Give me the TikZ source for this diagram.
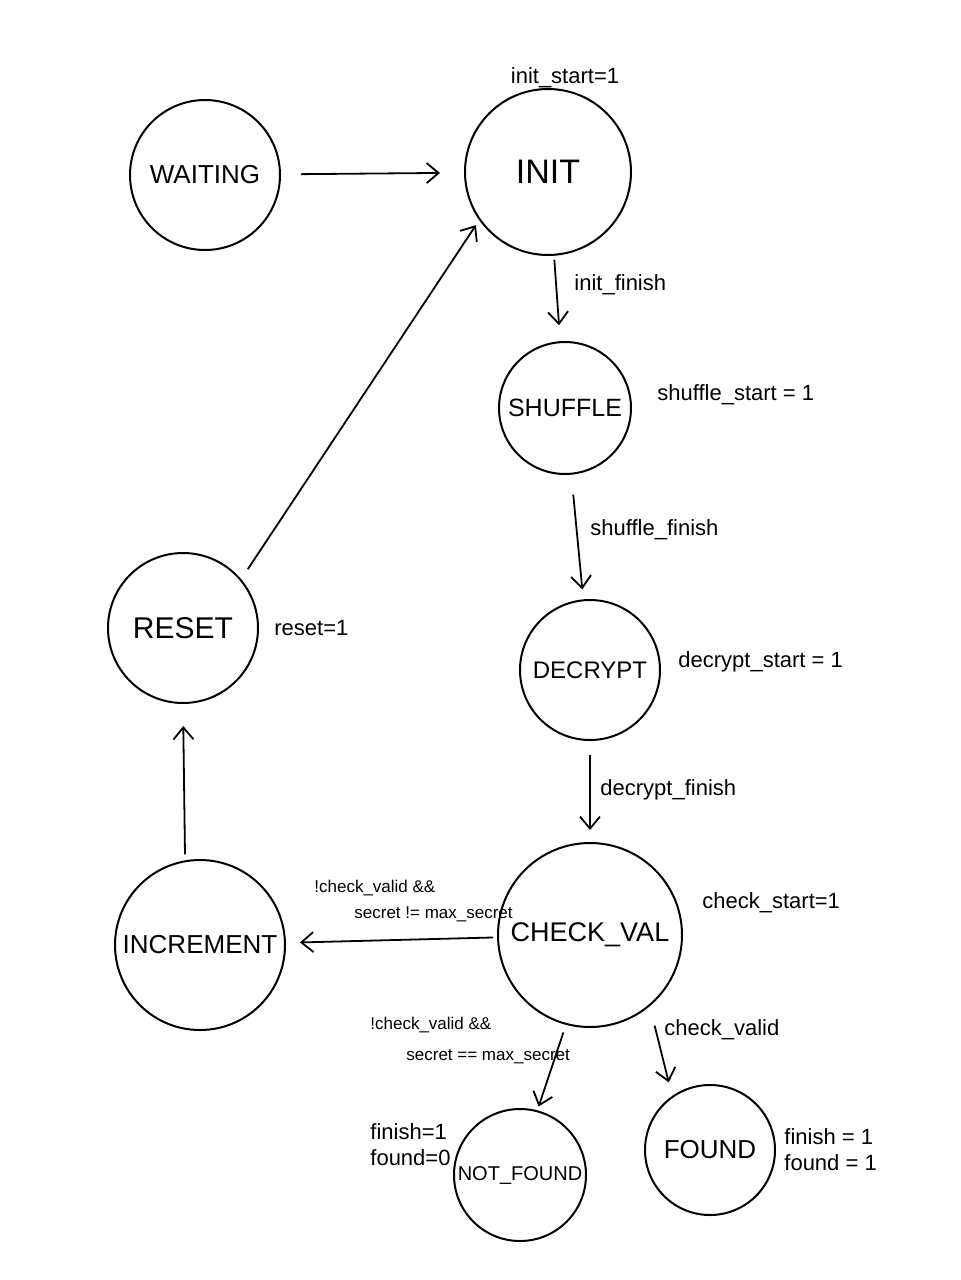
\documentclass[tikz,border=0pt]{standalone}
\usepackage{fontspec}
\setmainfont{Liberation Sans}
\usetikzlibrary{arrows.meta}
\begin{document}
\begin{tikzpicture}[x=0.5pt,y=-0.5pt,
  state/.style={circle,draw,line width=1pt,inner sep=0pt},
  lbl/.style={font=\fontsize{11}{13}\selectfont,inner sep=1pt},
  cond/.style={font=\fontsize{8.5}{10}\selectfont,inner sep=1pt},
  arr/.style={-{Straight Barb[length=6pt,width=10pt]},line width=0.9pt}]
\useasboundingbox[fill=white] (0,0) rectangle (961,1280);
% states
\node[state,minimum size=75pt,font=\fontsize{13}{15}\selectfont] (wait) at (205,175) {WAITING};
\node[state,minimum size=83pt,font=\fontsize{17}{19}\selectfont] (init) at (548,172) {INIT};
\node[state,minimum size=66pt,font=\fontsize{12.5}{14}\selectfont] (shuf) at (565,408) {SHUFFLE};
\node[state,minimum size=70pt,font=\fontsize{12}{14}\selectfont] (decr) at (590,670) {DECRYPT};
\node[state,minimum size=92pt,font=\fontsize{13.5}{15}\selectfont] (check) at (590,935) {CHECK\_VAL};
\node[state,minimum size=85pt,font=\fontsize{13}{15}\selectfont] (incr) at (200,945) {INCREMENT};
\node[state,minimum size=75pt,font=\fontsize{15}{17}\selectfont] (reset) at (183,628) {RESET};
\node[state,minimum size=66pt,font=\fontsize{10}{12}\selectfont] (nf) at (520,1175) {NOT\_FOUND};
\node[state,minimum size=65pt,font=\fontsize{13}{15}\selectfont] (found) at (710,1150) {FOUND};
% labels
\node[lbl] (l_is) at (565,78) {init\_start=1};
\node[lbl,anchor=west] (l_if) at (572,285) {init\_finish};
\node[lbl,anchor=west] (l_ss) at (655,395) {shuffle\_start = 1};
\node[lbl,anchor=west] (l_sf) at (588,530) {shuffle\_finish};
\node[lbl,anchor=west] (l_ds) at (676,662) {decrypt\_start = 1};
\node[lbl,anchor=west] (l_df) at (598,790) {decrypt\_finish};
\node[lbl,anchor=west] (l_cs) at (700,903) {check\_start=1};
\node[lbl,anchor=west] (l_cv) at (662,1030) {check\_valid};
\node[lbl,anchor=west] (l_rs) at (272,628) {reset=1};
\node[cond,anchor=west] (c1a) at (312,888) {!check\_valid \&\&};
\node[cond,anchor=west] (c1b) at (352,914) {secret != max\_secret};
\node[cond,anchor=west] (c2a) at (368,1025) {!check\_valid \&\&};
\node[cond,anchor=west] (c2b) at (404,1057) {secret == max\_secret};
\node[lbl,anchor=west,align=left] (l_nf) at (368,1145) {finish=1\\found=0};
\node[lbl,anchor=west,align=left] (l_fd) at (782,1150) {finish = 1\\found = 1};
% transitions
\draw[arr,shorten <=10pt,shorten >=12pt] (wait) -- (init);
\draw[arr,shorten <=2pt,shorten >=8pt] (init) -- (shuf);
\draw[arr,shorten <=10pt,shorten >=5pt] (shuf) -- (decr);
\draw[arr,shorten <=7pt,shorten >=6pt] (decr) -- (check);
\draw[arr,shorten <=2pt,shorten >=7pt] (check) -- (incr);
\draw[arr,shorten <=4pt,shorten >=2pt] (check.-105) -- (nf.75);
\draw[arr,shorten <=10pt,shorten >=7pt] (check.-50) -- (found.125);
\draw[arr,shorten <=3pt,shorten >=11pt] (incr.100) -- (reset.south);
\draw[arr,shorten <=6pt,shorten >=3pt] (reset.40) -- (init.215);
\end{tikzpicture}
\end{document}
